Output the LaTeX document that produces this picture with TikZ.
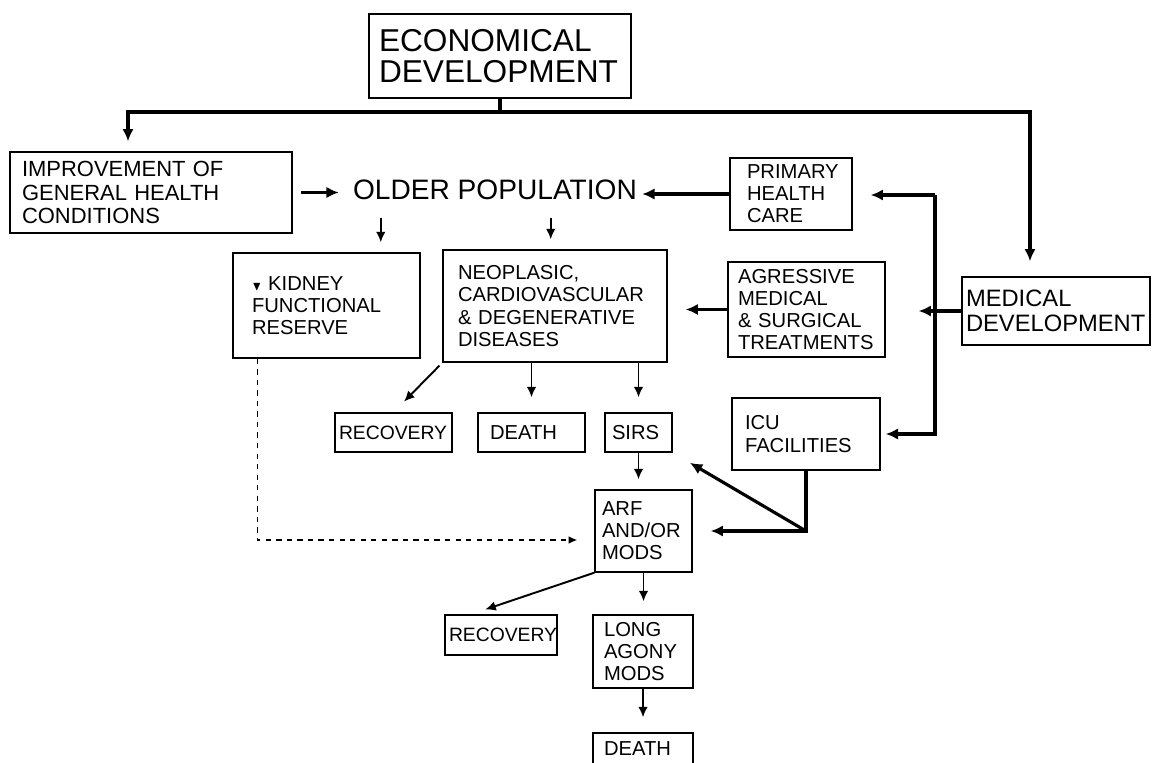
\documentclass[tikz,border=0pt]{standalone}
\usepackage{amssymb}
\usepackage{fontspec}
\setmainfont{Liberation Sans}
\usetikzlibrary{arrows.meta}
\tikzset{
block/.style={
  draw, 
  rectangle, 
  line width=0.8pt,
  align=left,
  font=\fontsize{11.5}{12.6}\selectfont
  }, 
line/.style={->,>={Latex[length=7pt,width=6.5pt]}, line width=1.8pt},
thinline/.style={->,>={Latex[length=6pt,width=5.5pt]}, line width=1.1pt},
dashline/.style={->,>={Latex[length=5pt,width=4.5pt]}, line width=0.9pt, dashed}
}

\begin{document}
\begin{tikzpicture}[x=0.02cm, y=-0.02cm]
\useasboundingbox (0,0) rectangle (1152,763);
% boxes, top row
\node[block, font=\fontsize{18}{17.5}\selectfont, text width=4.84cm, inner xsep=0.2cm, minimum height=1.68cm] (econ) at (500,56) {ECONOMICAL\\DEVELOPMENT};
\node[block, font=\fontsize{12.5}{13.2}\selectfont, text width=5.16cm, inner xsep=0.24cm, minimum height=1.62cm] (improve) at (151,192.5) {IMPROVEMENT OF\\GENERAL HEALTH\\CONDITIONS};
\node[inner sep=0, font=\fontsize{16}{18}\selectfont] (older) at (495,190) {OLDER POPULATION};
\node[block, text width=1.76cm, inner xsep=0.34cm, minimum height=1.44cm] (primary) at (791,194) {PRIMARY\\HEALTH\\CARE};
% middle row
\node[block, text width=2.98cm, inner xsep=0.38cm, minimum height=2.1cm] (kidney) at (326.5,305.5) {{\scriptsize$\blacktriangledown$} KIDNEY\\FUNCTIONAL\\RESERVE};
\node[block, text width=3.88cm, inner xsep=0.3cm, minimum height=2.24cm] (neo) at (555,306) {NEOPLASIC,\\CARDIOVASCULAR\\\& DEGENERATIVE\\DISEASES};
\node[block, text width=2.74cm, inner xsep=0.2cm, minimum height=1.9cm] (agr) at (806.5,309.5) {AGRESSIVE\\MEDICAL\\\& SURGICAL\\TREATMENTS};
\node[block, font=\fontsize{13.5}{14}\selectfont, text width=3.6cm, inner xsep=0.08cm, minimum height=1.36cm] (med) at (1056,311) {MEDICAL\\DEVELOPMENT};
% outcomes
\node[block, font=\fontsize{11}{12}\selectfont, text width=2.18cm, inner xsep=0.08cm, minimum height=0.78cm] (rec1) at (393.5,432.5) {RECOVERY};
\node[block, text width=1.66cm, inner xsep=0.24cm, minimum height=0.78cm] (death1) at (531.5,432.5) {DEATH};
\node[block, text width=1.06cm, inner xsep=0.14cm, minimum height=0.78cm] (sirs) at (638.5,432.5) {SIRS};
\node[block, text width=2.44cm, inner xsep=0.26cm, minimum height=1.44cm] (icu) at (806,434) {ICU\\FACILITIES};
\node[block, text width=1.66cm, inner xsep=0.14cm, minimum height=1.64cm] (arf) at (643.5,531) {ARF\\AND/OR\\MODS};
\node[block, font=\fontsize{11}{12}\selectfont, text width=2.08cm, inner xsep=0.08cm, minimum height=0.8cm] (rec2) at (501,635) {RECOVERY};
\node[block, text width=1.56cm, inner xsep=0.22cm, minimum height=1.46cm] (long) at (643,651.5) {LONG\\AGONY\\MODS};
\node[block, text width=1.56cm, inner xsep=0.22cm, minimum height=0.64cm] (death2) at (643,749) {DEATH};
% bus from the top box
\coordinate (busL) at (128,112);
\coordinate (busR) at (1030,112);
\coordinate (split) at (935,195);
\draw[line width=1.8pt] (econ.south) -- (econ.south |- busL);
\draw[line, shorten >=0.2cm] (econ.south |- busL) -- (busL) -- (busL |- improve.north);
\draw[line, shorten >=0.3cm] (econ.south |- busL) -- (busR) -- (busR |- med.north);
% into older population
\draw[line, shorten <=0.16cm, shorten >=0.28cm] (improve.east) -- (improve.east -| older.west);
\draw[line, shorten >=0.1cm] (primary.west) -- (primary.west -| older.east);
\draw[thinline, shorten <=0.35cm, shorten >=0.2cm] ([xshift=0.56cm]older.south west) -- ([xshift=0.56cm]older.south west |- kidney.north);
\draw[thinline, shorten <=0.35cm, shorten >=0.2cm] ([xshift=3.96cm]older.south west) -- ([xshift=3.96cm]older.south west |- neo.north);
% medical development branch
\draw[line, shorten >=0.36cm] (split) -- (split -| primary.east);
\draw[line, shorten >=0.1cm] (split) -- (split |- icu.east) -- (icu.east);
\draw[line, shorten >=0.66cm] (med.west) -- (med.west -| agr.east);
\draw[line, shorten >=0.36cm] (agr.west) -- (agr.west -| neo.east);
% disease outcomes
\draw[thinline, shorten <=0.08cm, shorten >=0.3cm] (neo.south west) -- (rec1.north);
\draw[thinline, shorten >=0.3cm] (death1.north |- neo.south) -- (death1.north);
\draw[thinline, shorten >=0.3cm] (sirs.north |- neo.south) -- (sirs.north);
\draw[thinline, shorten >=0.2cm] (sirs.south) -- (sirs.south |- arf.north);
% icu
\draw[line, shorten >=0.36cm] (icu.south) -- (icu.south |- arf.east) -- (arf.east);
\draw[line, shorten >=0.4cm] (icu.south |- arf.east) -- (sirs.south east);
% kidney reserve
\draw[dashline, shorten >=0.34cm] ([xshift=0.5cm]kidney.south west) |- ([yshift=-0.18cm]arf.west);
% arf outcomes
\draw[thinline, shorten >=0.3cm] (arf.south west) -- ([xshift=-0.6cm]rec2.north);
\draw[thinline, shorten >=0.26cm] (arf.south) -- (arf.south |- long.north);
\draw[thinline, shorten >=0.3cm] (long.south) -- (long.south |- death2.north);
\end{tikzpicture}
\end{document}
